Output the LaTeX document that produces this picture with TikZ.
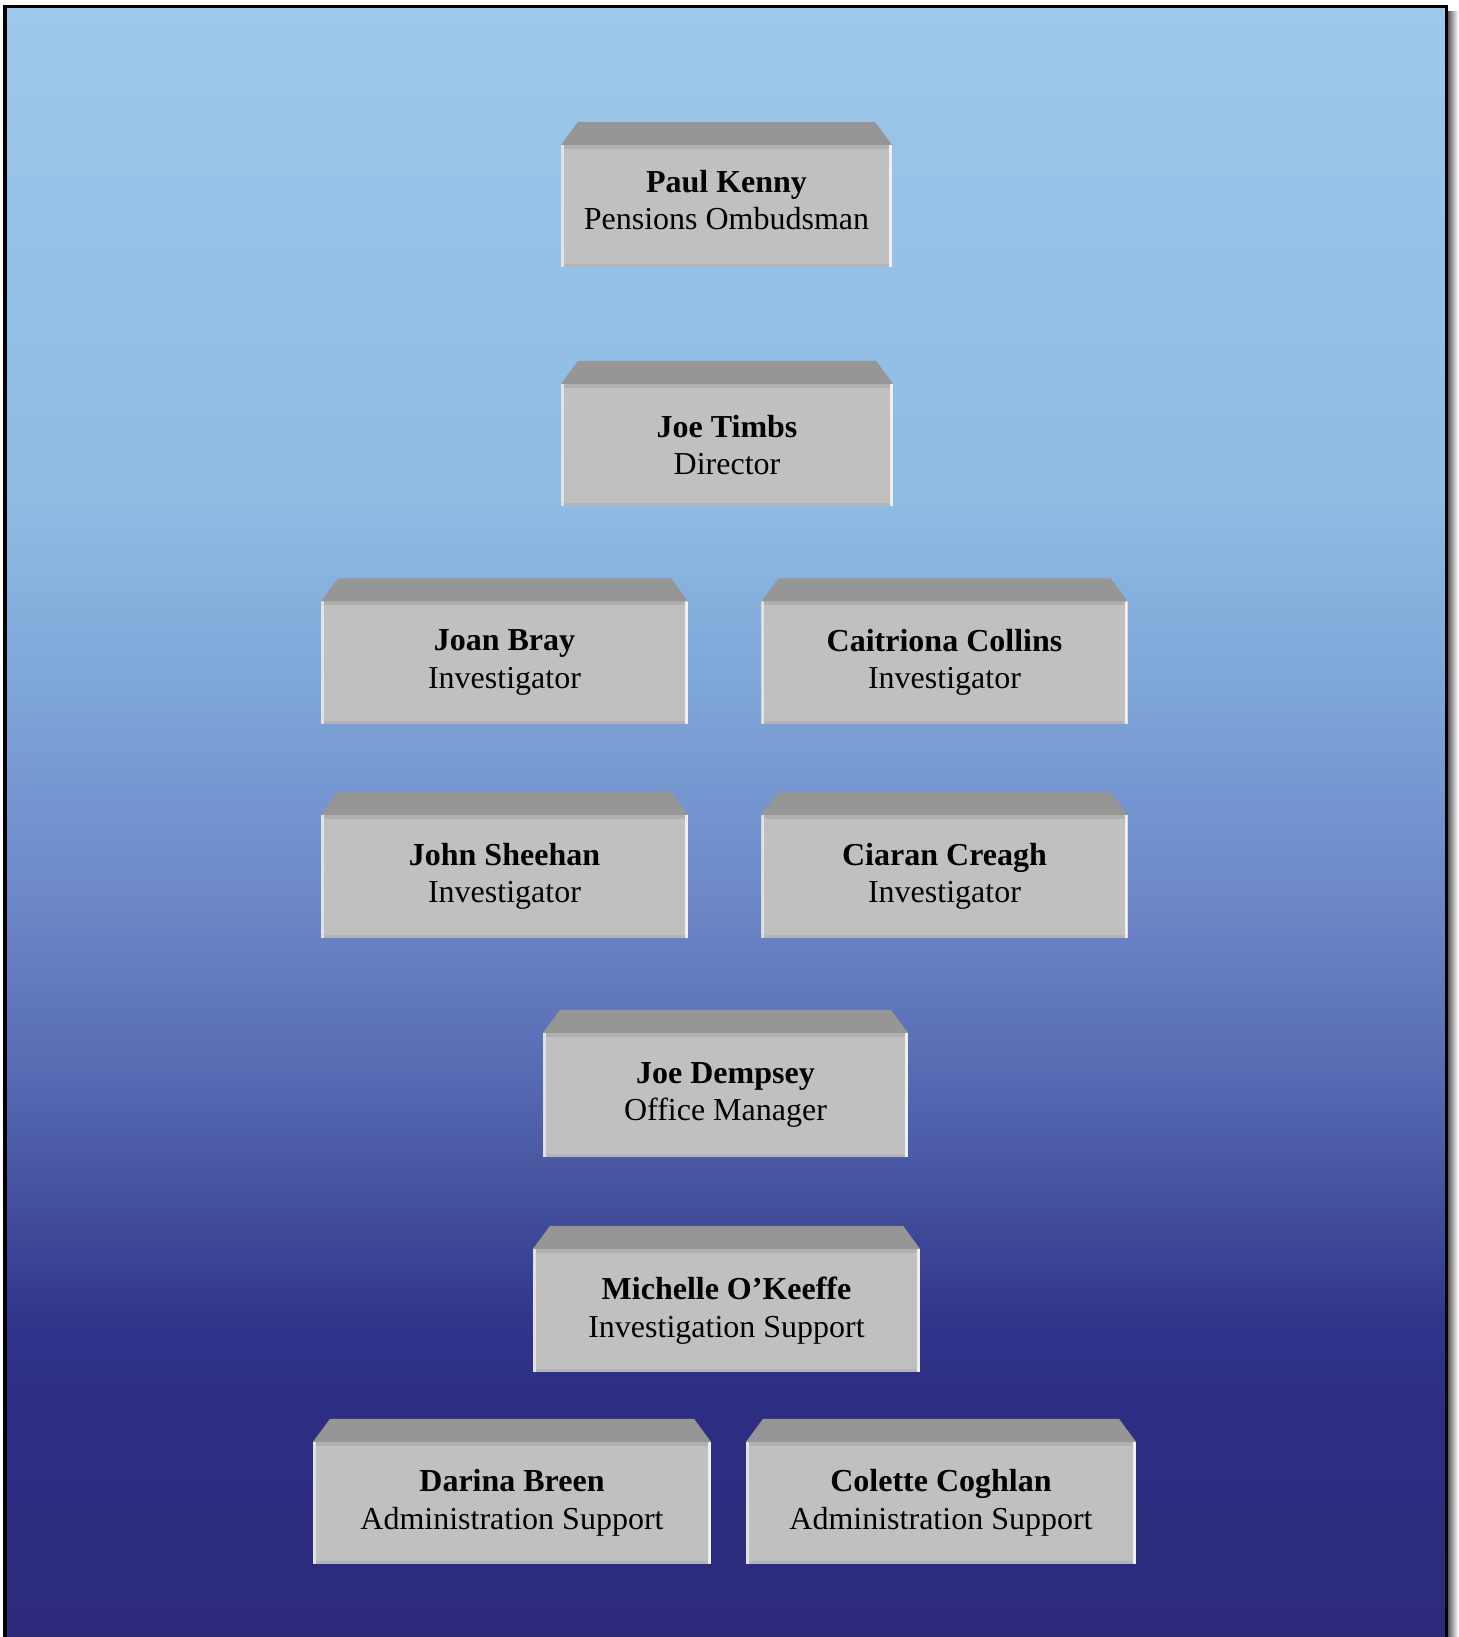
\documentclass[tikz,border=0pt]{standalone}
\usepackage{fontspec}
\setmainfont{Liberation Serif}
\usetikzlibrary{positioning}

\definecolor{facegray}{RGB}{192,192,192}
\definecolor{facetop}{RGB}{176,176,176}
\definecolor{facebot}{RGB}{180,180,180}
\definecolor{faceleft}{RGB}{226,226,226}
\definecolor{faceright}{RGB}{240,240,240}
\definecolor{roofgray}{RGB}{150,150,150}

% middle 50bp of the shading covers the path
\pgfdeclareverticalshading{bgshade}{100bp}{
  rgb(0bp)=(0.176,0.165,0.478);
  rgb(25bp)=(0.176,0.165,0.478);
  rgb(32.5bp)=(0.176,0.180,0.518);
  rgb(35bp)=(0.196,0.216,0.549);
  rgb(39bp)=(0.275,0.333,0.627);
  rgb(42.5bp)=(0.345,0.424,0.706);
  rgb(47.5bp)=(0.424,0.529,0.784);
  rgb(54bp)=(0.494,0.647,0.847);
  rgb(60bp)=(0.561,0.733,0.894);
  rgb(75bp)=(0.616,0.784,0.918);
  rgb(100bp)=(0.616,0.784,0.918)}

\begin{document}
\begin{tikzpicture}[
    x=0.01cm, y=-0.01cm,
    node font=\fontsize{9.1}{10.7}\selectfont,
    staff box/.style={rectangle, fill=facegray, inner sep=0pt, outer sep=0pt,
        minimum height=1.22cm, align=center,
        path picture={
          \fill[facetop] (path picture bounding box.north west) rectangle ([yshift=-0.04cm]path picture bounding box.north east);
          \fill[facebot] (path picture bounding box.south west) rectangle ([yshift=0.03cm]path picture bounding box.south east);
          \fill[faceleft] (path picture bounding box.south west) rectangle ([xshift=0.03cm]path picture bounding box.north west);
          \fill[faceright] (path picture bounding box.south east) rectangle ([xshift=-0.03cm]path picture bounding box.north east);
        }},
    roof face/.style={fill=roofgray},
]

\useasboundingbox (0,0) rectangle (1458,1637);

% Background and frame
\shade[left color=black!70, right color=white] (1447,12) rectangle (1458,1637);
\shade[shading=bgshade] (5,6.5) rectangle (1446.5,1637);
\draw[line width=1pt] (5,1640) -- (5,6.5) -- (1446.5,6.5) -- (1446.5,1640);

% Staff
\node[staff box, minimum width=3.31cm] (kenny) at (726.5,206) {\textbf{Paul Kenny}\\Pensions Ombudsman\\[-0.256cm]};
\node[staff box, minimum width=3.32cm] (timbs) at (727,445) {\textbf{Joe Timbs}\\Director};
\node[staff box, minimum width=3.67cm] (bray) at (504.5,662.5) {\textbf{Joan Bray}\\Investigator};
\node[staff box, minimum width=3.66cm] (collins) at (944.5,662.5) {\textbf{Caitriona Collins}\\Investigator};
\node[staff box, minimum width=3.67cm, minimum height=1.23cm] (sheehan) at (504.5,876.5) {\textbf{John Sheehan}\\Investigator};
\node[staff box, minimum width=3.66cm, minimum height=1.23cm] (creagh) at (944.5,876.5) {\textbf{Ciaran Creagh}\\Investigator};
\node[staff box, minimum width=3.65cm, minimum height=1.24cm] (dempsey) at (725.5,1095) {\textbf{Joe Dempsey}\\Office Manager};
\node[staff box, minimum width=3.87cm, minimum height=1.23cm] (okeeffe) at (726.5,1310.5) {\textbf{Michelle O’Keeffe}\\Investigation Support};
\node[staff box, minimum width=3.98cm] (breen) at (512,1503) {\textbf{Darina Breen}\\Administration Support};
\node[staff box, minimum width=3.90cm] (coghlan) at (941,1503) {\textbf{Colette Coghlan}\\Administration Support};

% Box tops
\foreach \n in {kenny,timbs,bray,collins,sheehan,creagh,dempsey,okeeffe,breen,coghlan}
  \fill[roof face] (\n.north west) -- ++(17,-23) -- ([shift={(-17,-23)}]\n.north east) -- (\n.north east) -- cycle;

\end{tikzpicture}
\end{document}
